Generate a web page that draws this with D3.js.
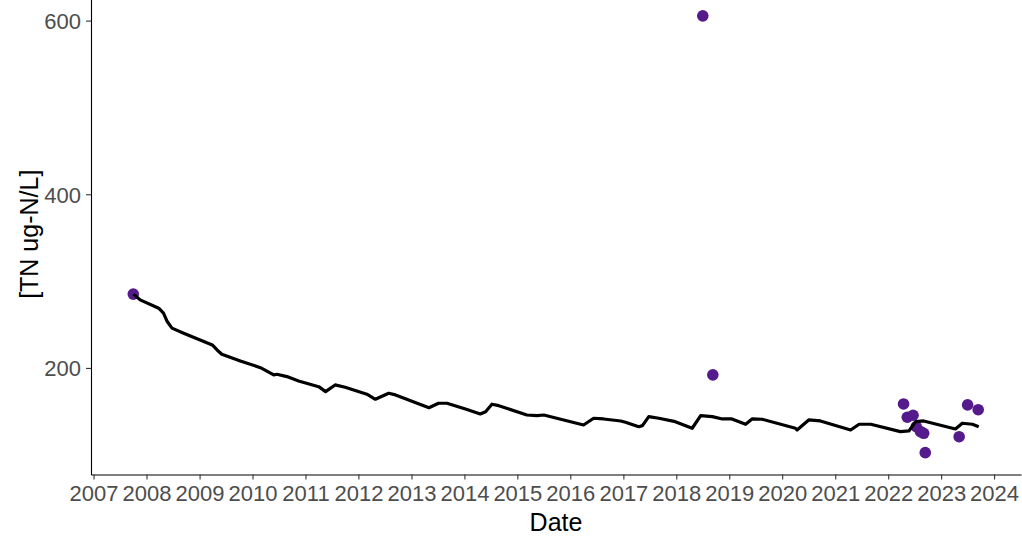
<!DOCTYPE html>
<html>
<head>
<meta charset="utf-8">
<title>TN trend</title>
<script src="https://cdn.jsdelivr.net/npm/d3@7"></script>
<style>
  body { margin: 0; background: #fff; }
  svg { display: block; font-family: "Liberation Sans", Arial, sans-serif; }
  .tick text { fill: #4d4d4d; font-size: 22px; }
  .tick line { stroke: #333; }
  .domain { stroke: #000; }
  .ttl { fill: #000; font-size: 25px; }
</style>
</head>
<body>
<div id="chart"></div>
<script>
// observed samples (decimal year, TN ug-N/L)
var pointYears  = [2007.75, 2018.50, 2018.69, 2022.29, 2022.36, 2022.47, 2022.53, 2022.61, 2022.67, 2022.70, 2023.34, 2023.50, 2023.70];
var pointValues = [285, 605.5, 192, 158.5, 143.2, 145.5, 132.3, 126.6, 124.7, 102.4, 120.8, 157.4, 151.9];

// fitted trend line
var lineYears = [2007.755, 2007.88, 2008.23, 2008.32, 2008.39, 2008.48, 2008.70, 2009.24, 2009.33, 2009.42,
  2009.77, 2010.15, 2010.40, 2010.46, 2010.65, 2010.87, 2011.25, 2011.38, 2011.56, 2011.75,
  2012.16, 2012.32, 2012.57, 2012.70, 2013.33, 2013.51, 2013.67, 2014.02, 2014.30, 2014.40,
  2014.52, 2014.65, 2015.18, 2015.37, 2015.50, 2016.25, 2016.44, 2016.63, 2016.95, 2017.04,
  2017.29, 2017.36, 2017.48, 2017.67, 2017.98, 2018.30, 2018.46, 2018.68, 2018.87, 2019.05,
  2019.21, 2019.31, 2019.43, 2019.62, 2020.25, 2020.28, 2020.50, 2020.72, 2021.29, 2021.45,
  2021.67, 2022.23, 2022.39, 2022.52, 2022.67, 2023.27, 2023.40, 2023.59, 2023.71];
var lineValues = [285.0, 278.4, 268.8, 263.1, 253.4, 245.8, 240.0, 226.5, 220.7, 215.8,
  208.1, 200.3, 191.9, 192.7, 190.0, 185.0, 178.4, 172.7, 180.4, 177.8,
  169.7, 163.9, 170.8, 168.9, 154.2, 159.3, 159.3, 152.7, 147.0, 149.6,
  158.2, 156.5, 145.8, 145.0, 145.8, 134.3, 142.0, 141.2, 138.9, 137.4,
  132.3, 133.5, 143.9, 142.0, 138.1, 130.5, 145.0, 143.9, 141.2, 141.2,
  137.4, 135.1, 141.2, 140.9, 130.5, 128.5, 140.1, 138.9, 128.5, 135.1,
  135.1, 126.6, 127.4, 138.1, 138.9, 129.7, 136.3, 135.1, 132.3];

var yTicks = [200, 400, 600];

var W = 1022, H = 536;
var panelL = 91, panelR = 1021, panelT = -6, panelB = 474.5;

function toDate(yv) {
  var yr = Math.floor(yv);
  var a = new Date(yr, 0, 1), b = new Date(yr + 1, 0, 1);
  return new Date(+a + (yv - yr) * (b - a));
}

var points = pointYears.map(function(d, i) { return {d: toDate(d), v: pointValues[i]}; });
var trend = lineYears.map(function(d, i) { return {d: toDate(d), v: lineValues[i]}; });

// ggplot-like 5% expansion
function expand(ext) {
  var pad = (ext[1] - ext[0]) * 0.05;
  return [ext[0] - pad, ext[1] + pad];
}
var allT = points.map(function(p){ return +p.d; }).concat(trend.map(function(p){ return +p.d; }));
var allV = pointValues.concat(lineValues);
var xd = expand(d3.extent(allT));
var yd = expand(d3.extent(allV));

var x = d3.scaleTime().domain([new Date(xd[0]), new Date(xd[1])]).range([panelL, panelR]);
var y = d3.scaleLinear().domain(yd).range([panelB, panelT]);

var svg = d3.select("#chart").append("svg")
  .attr("width", W).attr("height", H);

var xAxis = svg.append("g")
  .attr("transform", "translate(0," + panelB + ")")
  .call(d3.axisBottom(x).ticks(d3.timeYear.every(1)).tickFormat(d3.timeFormat("%Y")).tickSizeInner(5).tickSizeOuter(0).tickPadding(5));
xAxis.selectAll(".tick text").attr("dy", "0.75em");

var yAxis = svg.append("g")
  .attr("transform", "translate(" + panelL + ",0)")
  .call(d3.axisLeft(y).tickValues(yTicks).tickSizeInner(5).tickSizeOuter(0).tickPadding(5));
yAxis.selectAll(".tick text").attr("dy", "0.36em");

svg.selectAll(".domain").attr("stroke-width", 1.1);
svg.selectAll(".tick line").attr("stroke-width", 1.1);

// samples
svg.append("g").selectAll("circle")
  .data(points)
  .enter()
  .append("circle")
  .attr("cx", function(d){ return x(d.d); })
  .attr("cy", function(d){ return y(d.v); })
  .attr("r", 5.8)
  .attr("fill", "#551A8B");

// trend
svg.append("path")
  .datum(trend)
  .attr("fill", "none")
  .attr("stroke", "#000")
  .attr("stroke-width", 3.2)
  .attr("stroke-linejoin", "round")
  .attr("d", d3.line().x(function(d){ return x(d.d); }).y(function(d){ return y(d.v); }));

svg.append("text")
  .attr("class", "ttl")
  .attr("x", (panelL + panelR) / 2)
  .attr("y", 531)
  .attr("text-anchor", "middle")
  .text("Date");

svg.append("text")
  .attr("class", "ttl")
  .attr("transform", "translate(38," + ((panelT + panelB) / 2) + ") rotate(-90)")
  .attr("text-anchor", "middle")
  .text("[TN ug-N/L]");
</script>
</body>
</html>
